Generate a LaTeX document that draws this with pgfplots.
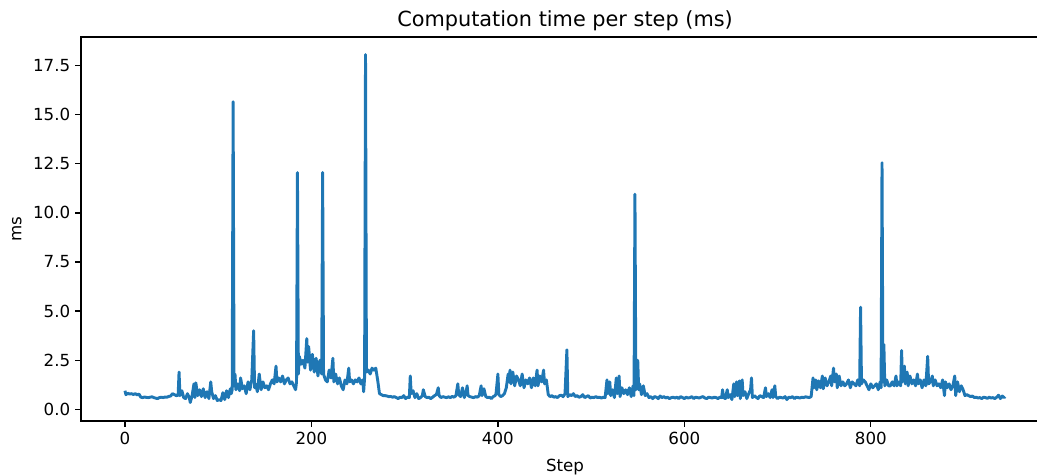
\documentclass[border=0pt]{standalone}
\usepackage{pgfplots}
\pgfplotsset{compat=1.18}
\usepackage{fontspec}
\setmainfont{DejaVu Sans}
\definecolor{mplblue}{HTML}{1F77B4}

\begin{document}
\begin{tikzpicture}
\begin{axis}[
    scale only axis,
    width=697pt, height=276.5pt,
    xmin=-47.2, xmax=991.2, ymin=-0.59, ymax=18.95,
    xtick={0,200,400,600,800,1000},
    ytick={0,2.5,5,7.5,10,12.5,15,17.5},
    yticklabel style={/pgf/number format/.cd, fixed, fixed zerofill, precision=1},
    /pgf/number format/assume math mode=true,
    /pgf/number format/1000 sep={},
    tick align=outside, tick pos=left,
    major tick length=4.2pt,
    every tick/.style={black, line width=0.96pt},
    axis line style={line width=0.96pt},
    tick label style={font=\fontsize{12}{14}\selectfont},
    label style={font=\fontsize{12}{14}\selectfont},
    xlabel style={yshift=-3.5pt},
    ylabel style={yshift=1.5pt},
    title style={font=\fontsize{15}{18}\selectfont, yshift=-5pt},
    title={Computation time per step (ms)},
    xlabel={Step}, ylabel={ms},
  ]
\addplot[mplblue, line width=2.1pt, line join=round, no marks] coordinates {
(0,0.95) (1,0.75) (3,0.82) (5,0.78) (7,0.80) (9,0.76) (11,0.80) (13,0.74) (15,0.78) (17,0.62)
(19,0.60) (21,0.63) (23,0.61) (25,0.60) (27,0.62) (29,0.64) (31,0.60) (33,0.57) (35,0.55) (37,0.60)
(39,0.62) (41,0.60) (43,0.63) (45,0.62) (47,0.66) (49,0.68) (51,0.80) (53,0.75) (55,0.70) (57,0.72)
(58,1.90) (59,0.70) (61,0.95) (63,0.60) (65,0.55) (67,0.80) (69,0.60) (70,0.35) (72,0.70) (74,1.30)
(75,0.60) (76,1.35) (78,0.70) (80,1.00) (82,0.65) (84,1.05) (86,0.60) (88,0.90) (90,0.55) (92,1.40)
(93,0.90) (95,0.55) (97,0.70) (99,0.45) (101,0.50) (103,0.45) (105,0.85) (107,0.50) (109,0.95) (111,0.60)
(113,1.05) (114,0.80) (115,1.00) (116,15.65) (117,1.20) (118,1.80) (119,1.00) (121,1.30) (123,0.95) (124,1.60)
(126,1.05) (128,1.20) (130,0.80) (132,1.40) (134,1.00) (136,1.50) (138,4.00) (139,1.10) (140,1.30) (142,0.90)
(144,1.80) (146,1.00) (148,1.40) (150,1.10) (152,1.20) (154,1.00) (156,1.30) (158,1.50) (160,1.30) (162,2.20)
(163,1.40) (165,1.60) (167,1.40) (169,1.70) (171,1.30) (173,1.50) (175,1.60) (177,1.30) (179,1.40) (181,1.20)
(183,1.00) (184,1.40) (185,12.05) (186,1.80) (187,2.70) (189,2.30) (191,2.50) (193,2.10) (195,3.60) (196,2.40)
(197,3.20) (199,2.00) (201,2.80) (203,1.90) (205,2.60) (207,1.70) (209,2.50) (211,1.80) (212,12.05) (213,1.80)
(215,1.50) (217,1.40) (219,2.00) (221,1.60) (223,2.60) (224,1.40) (226,1.80) (228,1.30) (230,1.60) (232,1.20)
(234,1.00) (236,1.50) (238,1.30) (240,2.10) (241,1.40) (243,1.50) (245,1.30) (247,1.50) (249,1.40) (251,1.60)
(253,1.30) (255,1.50) (256,0.90) (257,1.60) (258,18.05) (259,1.90) (261,2.00) (263,1.80) (265,2.10) (267,2.00)
(269,2.10) (271,1.50) (273,0.80) (275,0.75) (277,0.70) (279,0.70) (281,0.68) (283,0.65) (285,0.66) (287,0.62)
(289,0.65) (291,0.60) (293,0.55) (295,0.62) (297,0.60) (299,0.70) (301,0.55) (303,0.62) (305,0.60) (306,1.70)
(307,0.80) (309,0.95) (311,0.60) (313,0.80) (315,0.55) (317,0.60) (319,0.70) (320,1.00) (322,0.65) (324,0.60)
(326,0.62) (328,0.55) (330,0.62) (332,0.70) (334,0.75) (336,1.10) (337,0.70) (339,0.60) (341,0.65) (343,0.62)
(345,0.60) (347,0.64) (349,0.60) (351,0.66) (353,0.62) (355,0.70) (357,1.30) (358,0.75) (360,0.65) (362,1.10)
(364,0.60) (366,0.90) (367,1.20) (368,0.70) (370,0.65) (372,0.62) (374,0.60) (376,0.65) (378,0.62) (380,0.70)
(382,1.20) (383,0.70) (385,1.05) (387,0.65) (389,0.60) (391,0.62) (393,0.55) (395,0.65) (397,0.70) (398,0.80)
(400,1.80) (401,0.75) (403,0.65) (405,0.70) (407,0.80) (409,1.10) (411,1.80) (412,1.40) (413,2.00) (414,1.30)
(416,1.90) (418,1.20) (420,1.70) (422,1.50) (424,1.20) (426,1.80) (428,1.10) (430,1.50) (432,1.30) (434,1.60)
(436,1.10) (438,1.60) (440,1.20) (442,2.00) (443,1.20) (445,1.70) (447,1.40) (449,2.00) (450,1.30) (452,1.50)
(454,0.75) (456,0.65) (458,0.70) (460,0.62) (462,0.65) (464,0.60) (466,0.70) (468,0.72) (470,0.65) (472,0.80)
(474,3.03) (475,0.65) (477,0.75) (479,0.70) (481,0.80) (483,0.65) (485,0.70) (487,0.62) (489,0.65) (491,0.75)
(493,0.60) (495,0.65) (497,0.70) (499,0.58) (501,0.62) (503,0.60) (505,0.65) (507,0.60) (509,0.62) (511,0.58)
(513,0.62) (515,0.60) (517,1.50) (518,0.80) (520,1.40) (521,0.70) (523,1.00) (525,0.60) (527,1.60) (528,0.80)
(530,1.70) (531,0.65) (533,1.10) (535,0.80) (537,1.00) (539,0.75) (541,1.10) (543,0.65) (545,1.20) (546,0.70)
(547,10.95) (548,1.00) (549,1.80) (550,2.50) (551,1.00) (552,1.30) (554,0.75) (556,1.20) (558,0.70) (560,0.80)
(562,0.60) (564,0.65) (566,0.55) (568,0.65) (570,0.62) (572,0.55) (574,0.68) (576,0.60) (578,0.65) (580,0.58)
(582,0.62) (584,0.55) (586,0.60) (588,0.62) (590,0.58) (592,0.62) (594,0.55) (596,0.65) (598,0.60) (600,0.55)
(602,0.62) (604,0.58) (606,0.60) (608,0.65) (610,0.55) (612,0.62) (614,0.60) (616,0.58) (618,0.62) (620,0.65)
(622,0.58) (624,0.55) (626,0.62) (628,0.60) (630,0.58) (632,0.62) (634,0.60) (636,0.55) (638,0.62) (640,0.60)
(641,1.00) (642,0.60) (644,0.55) (646,1.00) (647,0.60) (649,0.75) (651,0.50) (653,1.30) (654,0.65) (656,1.40)
(657,0.70) (659,1.45) (660,0.55) (662,1.50) (663,0.70) (665,0.90) (667,0.55) (669,0.80) (671,1.00) (672,1.60)
(673,0.60) (675,0.70) (677,0.62) (679,0.55) (681,0.70) (683,0.65) (685,0.60) (687,1.10) (688,0.65) (690,0.80)
(692,0.60) (694,1.00) (695,0.60) (697,1.20) (698,0.65) (700,0.55) (702,0.62) (704,0.60) (706,0.58) (708,0.65)
(710,0.50) (712,0.62) (714,0.60) (716,0.65) (718,0.55) (720,0.62) (722,0.60) (724,0.58) (726,0.62) (728,0.60)
(730,0.64) (732,0.62) (734,0.60) (736,0.65) (738,1.60) (739,1.10) (741,1.50) (742,1.00) (744,1.45) (746,1.10)
(748,1.70) (749,1.05) (751,1.60) (753,1.20) (755,1.40) (757,1.70) (758,1.20) (760,2.10) (761,1.40) (763,1.80)
(764,1.10) (766,1.70) (768,1.20) (770,1.40) (772,1.20) (774,1.30) (776,1.50) (778,1.10) (780,1.40) (782,1.30)
(784,1.20) (786,1.50) (788,1.20) (789,5.20) (790,1.30) (792,1.50) (794,1.40) (796,1.20) (798,1.00) (800,1.30)
(802,1.10) (804,1.20) (806,1.30) (808,1.00) (810,1.40) (811,1.10) (812,12.55) (813,1.40) (814,3.30) (815,1.20)
(817,1.50) (819,1.20) (821,1.20) (823,1.40) (825,1.20) (827,1.70) (828,1.20) (830,1.40) (832,1.20) (833,3.00)
(834,1.40) (836,2.20) (837,1.30) (839,1.90) (840,1.20) (842,1.70) (844,1.30) (846,1.50) (848,1.20) (850,1.80)
(851,1.30) (853,1.50) (855,1.10) (857,1.50) (859,1.20) (861,2.70) (862,1.30) (864,1.40) (866,1.70) (867,1.20)
(869,1.50) (871,1.20) (873,1.30) (875,1.10) (877,1.50) (879,0.70) (880,1.40) (882,1.10) (884,1.30) (886,1.00)
(888,1.20) (890,1.70) (891,0.70) (893,1.40) (895,0.90) (897,1.20) (899,1.00) (901,0.70) (903,0.75) (905,0.70)
(907,0.65) (909,0.68) (911,0.60) (913,0.62) (915,0.58) (917,0.60) (919,0.55) (921,0.62) (923,0.60) (925,0.56)
(927,0.62) (929,0.58) (931,0.60) (933,0.55) (935,0.62) (937,0.72) (939,0.55) (941,0.68) (943,0.60) (944,0.65)
};
\end{axis}
\pgfresetboundingbox
\useasboundingbox (-58.3pt,-38.2pt) rectangle (688.3pt,303.1pt);
\end{tikzpicture}
\end{document}
